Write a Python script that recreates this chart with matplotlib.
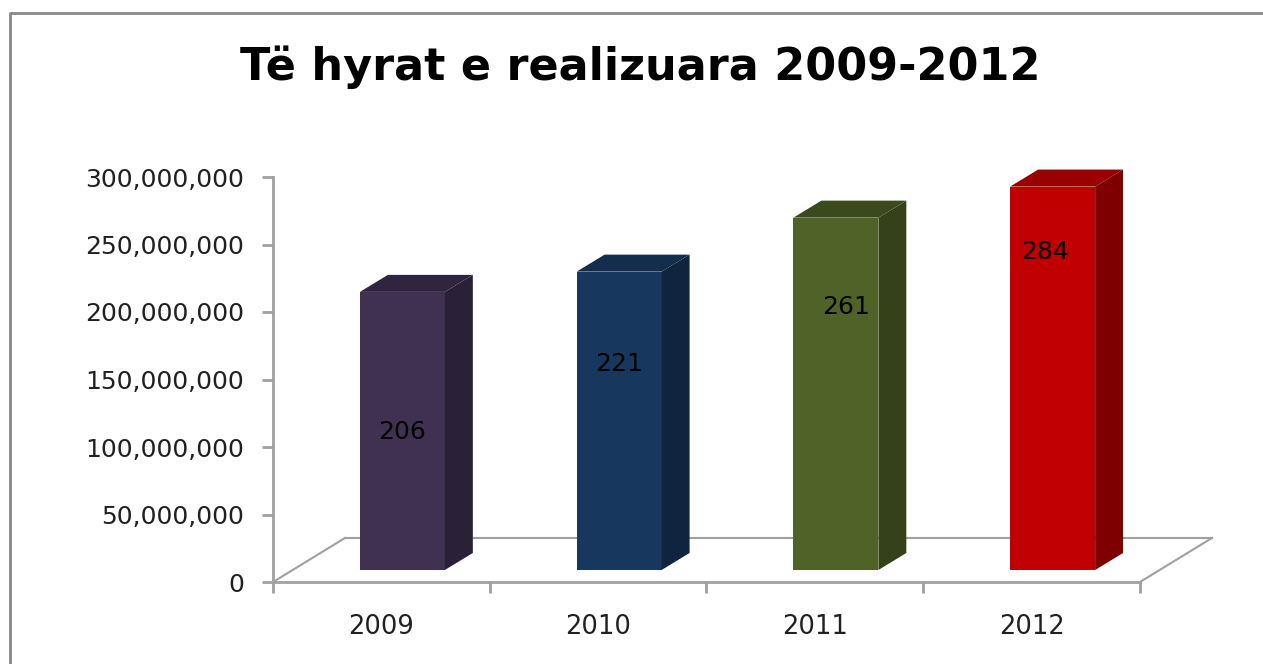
import numpy as np
import matplotlib
matplotlib.use('Agg')
import matplotlib.pyplot as plt
from matplotlib.patches import Polygon
from matplotlib.lines import Line2D
from matplotlib.ticker import FuncFormatter, FixedLocator

# ---- data ----
years = ['2009', '2010', '2011', '2012']
revenue = [206e6, 221e6, 261e6, 284e6]
value_labels = ['206', '221', '261', '284']
title = 'Të hyrat e realizuara 2009-2012'

# ---- style / layout ----
front_colors = ['#403152', '#17375e', '#4f6228', '#c00000']
side_colors = ['#2a2139', '#0f253f', '#344119', '#7f0000']
top_colors = ['#30253f', '#132d4d', '#3a4a1d', '#990000']
label_frac = [0.54, 0.73, 0.78, 0.86]    # where Excel put the labels up the bar
label_shift = [0.0, 0.0, 0.045, -0.035]  # small horizontal nudges (category units)
grid_col = '#a0a0a0'

W, H = 1263, 664
fig = plt.figure(figsize=(W / 100, H / 100), dpi=100)
ax = fig.add_axes([273 / W, 82 / H, 867 / W, 405 / H])
ax.set_xlim(0, 4)
ax.set_ylim(0, 300e6)

# pseudo-3d offsets in data units
floor_dx, floor_dy = 0.332, 32.6e6
face_dx, face_dy = 0.097, 8.9e6
depth_dx, depth_dy = 0.129, 12.6e6
bar_w = 0.392

# floor outline
floor_kw = dict(color=grid_col, lw=1.5, clip_on=False, zorder=1)
ax.plot([0, floor_dx], [0, floor_dy], **floor_kw)
ax.plot([floor_dx, 4 + floor_dx], [floor_dy, floor_dy], **floor_kw)
ax.plot([4, 4 + floor_dx], [0, floor_dy], **floor_kw)

for i, v in enumerate(revenue):
    xc = i + 0.5 + face_dx
    xl, xr = xc - bar_w / 2, xc + bar_w / 2
    b = face_dy
    t = face_dy + v
    front = Polygon([(xl, b), (xr, b), (xr, t), (xl, t)], closed=True,
                    fc=front_colors[i], ec='none', clip_on=False, zorder=3)
    side = Polygon([(xr, b), (xr + depth_dx, b + depth_dy),
                    (xr + depth_dx, t + depth_dy), (xr, t)], closed=True,
                   fc=side_colors[i], ec='none', clip_on=False, zorder=3)
    top = Polygon([(xl, t), (xl + depth_dx, t + depth_dy),
                   (xr + depth_dx, t + depth_dy), (xr, t)], closed=True,
                  fc=top_colors[i], ec='none', clip_on=False, zorder=3)
    for p in (front, side, top):
        ax.add_patch(p)
    ax.text(xc + label_shift[i], v * label_frac[i], value_labels[i],
            ha='center', va='center', fontsize=18, color='black', zorder=4)

# axes styling
for s in ('top', 'right'):
    ax.spines[s].set_visible(False)
for s in ('left', 'bottom'):
    ax.spines[s].set_color(grid_col)
    ax.spines[s].set_linewidth(2)

ax.yaxis.set_major_locator(FixedLocator(np.arange(0, 300e6 + 1, 50e6)))
ax.yaxis.set_major_formatter(FuncFormatter(lambda y, p: f'{int(y):,}'))
ax.tick_params(axis='y', length=8, width=2, color=grid_col, pad=13,
               labelsize=18, labelcolor='#202020')

ax.set_xticks([0, 1, 2, 3, 4])
ax.set_xticklabels([])
ax.set_xticks([0.5, 1.5, 2.5, 3.5], minor=True)
ax.set_xticklabels(years, minor=True)
ax.tick_params(axis='x', which='major', length=8, width=2, color=grid_col)
ax.tick_params(axis='x', which='minor', length=0, pad=23,
               labelsize=18.5, labelcolor='#202020')

# title and chart-area border
fig.text(640 / W, 1 - 67 / H, title, ha='center', va='center',
         fontsize=32, fontweight='bold', color='black')
fig.add_artist(Line2D([10 / W, 10 / W, 1.0], [0.0, 1 - 13 / H, 1 - 13 / H],
                      transform=fig.transFigure, color='#888888', lw=2))

fig.savefig('out.png', dpi=100)
